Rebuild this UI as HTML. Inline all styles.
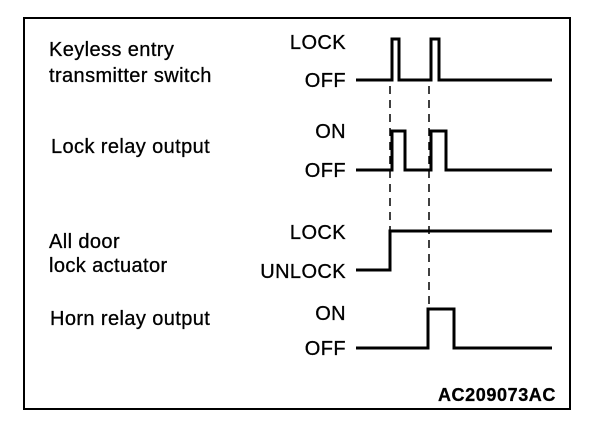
<!DOCTYPE html>
<html><head><style>
html,body{margin:0;padding:0;background:#fff;}
svg{display:block;}
text{font-family:"Liberation Sans",Arial,sans-serif;font-size:20px;letter-spacing:0.4px;fill:#000;stroke:#000;stroke-width:0.3px;}
.l{letter-spacing:0.75px;}
</style></head><body>
<svg width="608" height="426" viewBox="0 0 608 426" xmlns="http://www.w3.org/2000/svg">
<rect x="24" y="18" width="546" height="391" fill="none" stroke="#000" stroke-width="2"/>
<g class="l">
<text x="49" y="56">Keyless entry</text>
<text x="49" y="82">transmitter switch</text>
<text x="51" y="153">Lock relay output</text>
<text x="49" y="248">All door</text>
<text x="49" y="272">lock actuator</text>
<text x="50" y="325">Horn relay output</text>
</g>
<g text-anchor="end">
<text x="346" y="49">LOCK</text>
<text x="346" y="87">OFF</text>
<text x="346" y="138">ON</text>
<text x="346" y="177">OFF</text>
<text x="346" y="239">LOCK</text>
<text x="346" y="278">UNLOCK</text>
<text x="346" y="320">ON</text>
<text x="346" y="355">OFF</text>
</g>
<g fill="none" stroke="#000" stroke-width="3" stroke-linejoin="miter">
<polyline points="356,80 392,80 392,39 399,39 399,80 431,80 431,39 439,39 439,80 552,80"/>
<polyline points="356,170 392,170 392,131 405,131 405,170 431,170 431,131 446,131 446,170 552,170"/>
<polyline points="356,270 390,270 390,231 552,231"/>
<polyline points="356,348 428,348 428,309 454,309 454,348 552,348"/>
</g>
<g stroke="#000" stroke-width="1.5" stroke-dasharray="8,6">
<line x1="390" y1="86" x2="390" y2="230"/>
<line x1="429" y1="86" x2="429" y2="308"/>
</g>
<text x="556" y="401" text-anchor="end" style="font-weight:bold;font-size:18px;letter-spacing:0.6px">AC209073AC</text>
</svg>
</body></html>
